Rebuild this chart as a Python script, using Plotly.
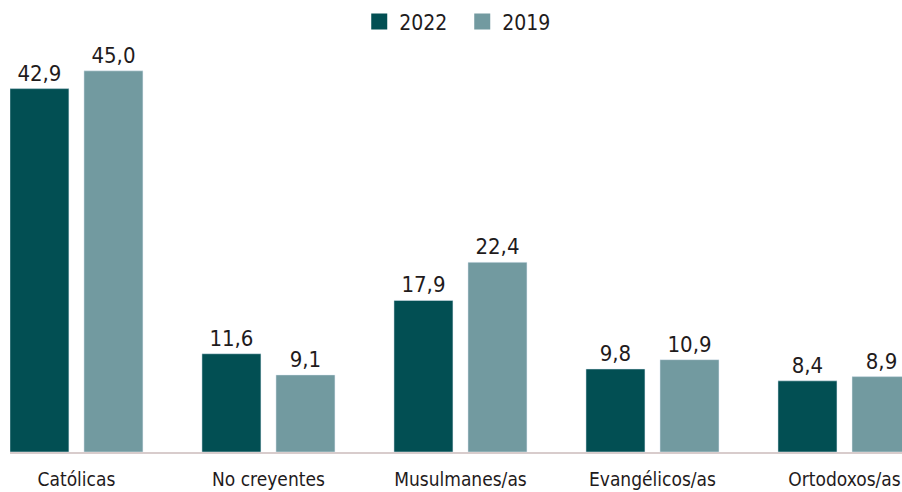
import plotly.graph_objects as go

categorias = ["Católicas", "No creyentes", "Musulmanes/as", "Evangélicos/as", "Ortodoxos/as"]
valores_2022 = [42.9, 11.6, 17.9, 9.8, 8.4]
valores_2019 = [45.0, 9.1, 22.4, 10.9, 8.9]

color_2022 = "#024f53"
color_2019 = "#729aa0"
fuente = "Liberation Sans Narrow, DejaVu Sans Condensed, Arial Narrow, sans-serif"
texto = "#1f1b1c"


def etiqueta(v):
    return f"{v:.1f}".replace(".", ",")


fig = go.Figure()
for nombre, vals, color in [("2022", valores_2022, color_2022), ("2019", valores_2019, color_2019)]:
    fig.add_trace(go.Bar(
        x=categorias, y=vals, name=nombre, marker_color=color,
        text=[etiqueta(v) for v in vals], textposition="outside",
        textfont=dict(size=22, color=texto, family=fuente),
        cliponaxis=False, constraintext="none", showlegend=False,
    ))
    # entrada de leyenda con cuadrado más grande
    fig.add_trace(go.Scatter(
        x=[None], y=[None], mode="markers", name=nombre,
        marker=dict(symbol="square", size=20, color=color),
    ))

fig.update_layout(
    width=902, height=492,
    margin=dict(l=10, r=0, t=50, b=40, autoexpand=False),
    paper_bgcolor="white", plot_bgcolor="white",
    barmode="group", bargap=0.229, bargroupgap=0.203,
    font=dict(family=fuente, size=22, color=texto),
    legend=dict(orientation="h", x=0.507, xanchor="center", y=1.07, yanchor="middle",
                font=dict(size=21), itemwidth=30, entrywidth=58, tracegroupgap=0,
                itemclick=False),
    xaxis=dict(range=[-0.346, 4.2995], showgrid=False, showline=True, automargin=False,
               linecolor="#d8cccc", linewidth=2, ticks="", ticklabelstandoff=9,
               tickfont=dict(size=19)),
    yaxis=dict(range=[0, 47.46], visible=False, automargin=False),
)

# sin margen del body para que la figura ocupe la ventana exacta
fig.write_html("out.html", config={"displayModeBar": False},
               post_script="document.body.style.margin='0';")
